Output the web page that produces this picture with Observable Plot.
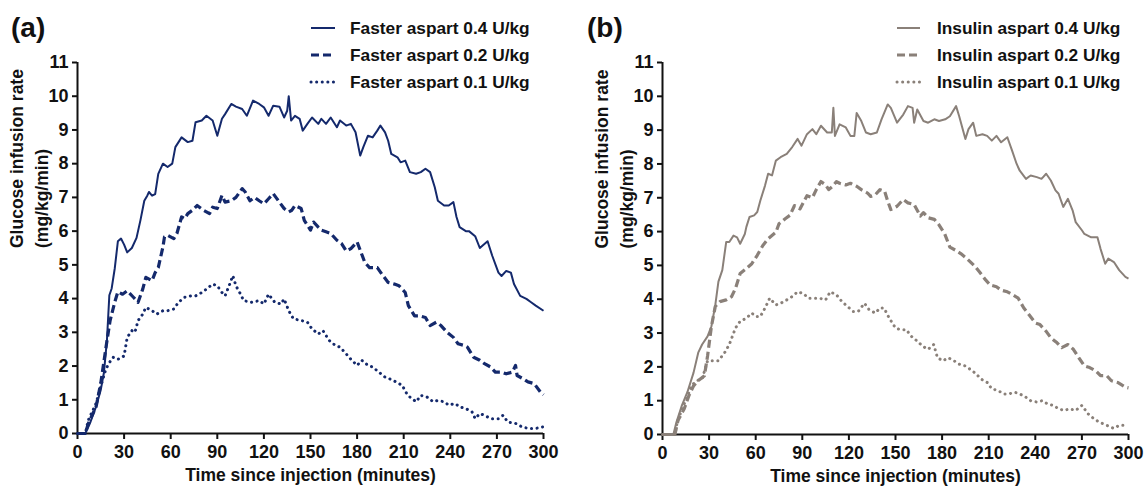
<!DOCTYPE html>
<html>
<head>
<meta charset="utf-8">
<script src="https://cdn.jsdelivr.net/npm/d3@7"></script>
<script src="https://cdn.jsdelivr.net/npm/@observablehq/plot@0.6"></script>
<style>
  html, body { margin: 0; padding: 0; background: #fff; }
  #wrap { position: relative; width: 1145px; height: 486px; overflow: hidden; background: #fff;
          font-family: "Liberation Sans", Arial, sans-serif; }
  #pa, #pb { position: absolute; top: 0; }
  #pa { left: 0; }
  #pb { left: 572px; }
  #overlay { position: absolute; left: 0; top: 0; pointer-events: none; }
</style>
</head>
<body>
<div id="wrap">
  <div id="pa"></div>
  <div id="pb"></div>
  <svg id="overlay" width="1145" height="486"></svg>
</div>
<script>
// ---------- data (time in minutes, GIR in mg/kg/min) ----------
const xTicks = [0, 30, 60, 90, 120, 150, 180, 210, 240, 270, 300];
const yTicks = [0, 1, 2, 3, 4, 5, 6, 7, 8, 9, 10, 11];

const fasterLabels = ["Faster aspart 0.4 U/kg", "Faster aspart 0.2 U/kg", "Faster aspart 0.1 U/kg"];
const insulinLabels = ["Insulin aspart 0.4 U/kg", "Insulin aspart 0.2 U/kg", "Insulin aspart 0.1 U/kg"];

const faster04 = [[0,0],[5,0],[8,0.3],[12,0.8],[15,1.3],[17,1.8],[19,2.8],[20.5,4.1],[22,4.3],[24,4.9],[26,5.7],[28,5.78],[30,5.6],[32,5.37],[35,5.5],[38,5.8],[40.5,6.32],[43,6.9],[45,7.06],[46,7.16],[48,7.05],[50,7.1],[52,7.7],[55,8.0],[58,7.9],[61,8.0],[63,8.49],[67,8.78],[71,8.64],[74,8.68],[76,9.23],[80,9.28],[83,9.42],[87,9.28],[90,8.83],[93,9.33],[95,9.47],[99,9.77],[102,9.69],[106,9.62],[109,9.42],[113,9.87],[117,9.77],[120,9.67],[123,9.42],[126,9.72],[130,9.69],[133,9.37],[135,9.57],[136,10.0],[137.5,9.28],[140,9.42],[143,9.33],[145,8.98],[148,9.18],[151,9.37],[155,9.18],[157,9.33],[160,9.18],[163,9.37],[167,9.08],[169,9.28],[173,9.13],[176,9.18],[179,8.93],[182,8.24],[184,8.49],[187,8.83],[190,8.78],[193,8.98],[195,9.13],[198,8.93],[200,8.68],[202,8.29],[206,8.19],[208,8.04],[211,8.09],[214,7.75],[218,7.7],[221,7.75],[224,7.85],[227,7.75],[230,7.3],[232,6.9],[236,6.76],[239,6.76],[242,6.86],[244,6.42],[246,6.12],[250,6.0],[252,6.0],[256,5.85],[259,5.5],[264,5.7],[267,5.27],[271,4.77],[273,4.67],[276,4.82],[279,4.77],[281,4.43],[285,4.08],[289,3.99],[292,3.89],[295,3.79],[300,3.64]];

const faster02 = [[0,0],[5,0],[7,0.3],[12,0.8],[15,1.5],[19,2.76],[21,3.35],[24,3.9],[26,4.2],[29,4.13],[32,4.23],[36,4.04],[39,3.89],[42,4.28],[44,4.63],[48,4.53],[50,4.77],[52,4.92],[55,5.53],[56,5.83],[58,5.88],[62,5.78],[64,5.93],[67,6.42],[69,6.37],[71,6.52],[74,6.62],[77,6.76],[81,6.62],[85,6.52],[87,6.71],[90,6.67],[93,7.06],[95,6.86],[99,6.9],[102,7.0],[106,7.26],[108,7.16],[111,6.9],[114,7.0],[117,6.9],[120,6.81],[123,6.96],[126,7.11],[130,6.86],[133,6.67],[136,6.57],[138,6.62],[140,6.76],[144,6.67],[146,6.32],[150,6.03],[152,6.27],[155,6.12],[157,6.03],[160,5.98],[163,5.93],[167,5.73],[170,5.63],[173,5.41],[176,5.48],[180,5.68],[185,5.07],[188,4.92],[193,4.92],[196,4.72],[200,4.48],[204,4.43],[207,4.38],[211,4.18],[213,3.79],[217,3.49],[220,3.49],[224,3.44],[227,3.2],[231,3.3],[234,3.2],[238,3.0],[242,2.85],[245,2.66],[249,2.61],[251,2.56],[255,2.26],[259,2.17],[262,2.07],[266,1.97],[269,1.82],[273,1.82],[276,1.77],[280,1.82],[282,2.02],[283,1.72],[287,1.62],[290,1.53],[294,1.48],[298,1.23],[300,1.15]];

const faster01 = [[0,0],[5,0],[7,0.4],[12,0.9],[15,1.4],[18,1.87],[20,2.07],[23,2.26],[26,2.2],[30,2.3],[32,2.85],[35,3.05],[37,3.0],[39,3.35],[42,3.54],[44,3.74],[48,3.64],[51,3.54],[55,3.64],[58,3.64],[62,3.69],[65,3.89],[69,4.04],[73,4.08],[76,4.08],[80,4.18],[83,4.28],[87,4.43],[90,4.38],[93,4.18],[95,4.08],[98,4.43],[100,4.68],[102,4.38],[105,4.13],[107,3.94],[112,3.89],[117,3.94],[120,3.84],[123,4.13],[127,3.89],[131,3.84],[133,3.99],[136,3.64],[139,3.4],[144,3.35],[148,3.3],[151,3.1],[155,2.95],[158,3.05],[162,2.76],[166,2.61],[169,2.56],[173,2.36],[176,2.2],[180,2.02],[183,2.17],[187,2.02],[190,1.97],[194,1.82],[198,1.67],[201,1.62],[205,1.53],[209,1.43],[212,1.18],[214,1.08],[218,0.94],[221,1.13],[225,1.08],[229,0.94],[232,0.98],[236,0.94],[239,0.84],[243,0.89],[246,0.79],[250,0.74],[254,0.64],[256,0.44],[259,0.59],[262,0.54],[266,0.44],[271,0.44],[274,0.54],[277,0.34],[282,0.3],[286,0.2],[290,0.15],[295,0.15],[300,0.2]];

const insulin04 = [[0,0],[7,0],[9,0.37],[12.5,0.86],[16,1.25],[20,1.83],[23,2.42],[25.5,2.66],[29,2.9],[31.5,3.2],[34,3.83],[36,4.52],[38.5,4.86],[41,5.69],[43,5.69],[45.7,5.88],[48,5.83],[50,5.64],[53,5.93],[54,6.14],[56,6.43],[59,6.48],[61,6.58],[63,6.92],[66,7.36],[68,7.71],[70.5,7.66],[73,8.1],[76,8.2],[80,8.3],[83.5,8.5],[87,8.74],[89.5,8.54],[93,8.88],[96.5,9.03],[99,8.88],[102,9.13],[106,8.93],[109,8.93],[110,9.66],[111,8.83],[114,9.17],[118,9.08],[121,8.83],[123.5,8.83],[125,9.51],[128,9.27],[131,8.93],[134,8.88],[138,8.93],[141,9.32],[145,9.76],[147,9.66],[151,9.22],[155,9.46],[158,9.71],[161,9.66],[162,9.22],[164,9.61],[168,9.27],[171,9.22],[175,9.32],[178,9.27],[182,9.32],[185,9.41],[189,9.71],[191,9.41],[195,8.74],[197,9.03],[200,9.22],[202,8.83],[206,8.88],[209,8.83],[212,8.69],[215,8.83],[218,8.64],[222,8.79],[225,8.4],[228,8.0],[230,7.8],[234,7.56],[237,7.66],[241,7.61],[244,7.56],[247,7.71],[250,7.51],[253,7.22],[255,7.12],[258,6.73],[261,6.97],[264,6.63],[266,6.28],[270,6.04],[271.6,5.93],[276,5.83],[280,5.83],[282,5.49],[285,5.05],[287,5.2],[290.6,5.1],[294,4.86],[298,4.66],[300,4.61]];

const insulin02 = [[0,0],[8,0],[10,0.42],[14,0.76],[17,1.15],[20,1.44],[23,1.59],[27,1.74],[29,2.32],[31.5,3.2],[34,3.79],[37,3.93],[41,3.98],[44.5,4.08],[47,4.32],[50,4.76],[54,4.91],[57.5,5.05],[61,5.3],[64.6,5.59],[68,5.79],[73,5.98],[75,6.23],[79,6.38],[82,6.48],[85,6.77],[88.5,6.67],[93,7.06],[96.5,7.0],[99,7.24],[102,7.48],[105,7.38],[107,7.24],[109.5,7.34],[112,7.48],[114,7.43],[118,7.38],[121,7.43],[125,7.34],[128,7.24],[132,7.14],[134,7.04],[137,7.09],[140,7.24],[143,7.19],[145,6.9],[147,6.65],[151,6.75],[155,6.95],[158,6.85],[162,6.8],[166,6.46],[168,6.56],[171,6.41],[175,6.36],[178,6.2],[181.7,5.93],[185,5.54],[189,5.44],[192,5.35],[196,5.2],[200.6,5.0],[204,4.81],[208,4.57],[211,4.42],[215,4.37],[218,4.27],[222,4.22],[225.5,4.13],[229,4.03],[232.6,3.74],[236,3.54],[240,3.3],[243,3.25],[247,3.05],[250,2.86],[254,2.71],[257,2.57],[261,2.66],[264.5,2.52],[268,2.27],[271.6,2.03],[275,1.98],[279,1.88],[282,1.74],[286,1.74],[289,1.59],[293,1.54],[298,1.4],[300,1.38]];

const insulin01 = [[0,0],[8,0],[9,0.27],[12.5,0.76],[16,1.1],[18.5,1.44],[22,1.59],[25.5,1.64],[29,2.18],[32.6,2.18],[36,2.18],[40,2.42],[43,2.66],[47,3.15],[50,3.35],[54,3.44],[57.5,3.59],[60,3.49],[63,3.49],[66,3.74],[69,4.03],[73,3.83],[76,3.88],[80,3.98],[83.5,4.08],[87,4.22],[90.6,4.17],[94,4.03],[98,4.03],[101,4.03],[105,3.98],[108,4.22],[112,4.13],[115.5,3.93],[119,3.79],[122.6,3.64],[126,3.64],[130,3.88],[133,3.69],[137,3.59],[140,3.74],[142.6,3.74],[146,3.44],[150,3.15],[153,3.1],[157,3.1],[160,2.91],[164,2.76],[167.5,2.61],[171,2.52],[174.6,2.66],[177,2.27],[180.6,2.18],[184,2.27],[187.6,2.18],[191,2.08],[194.7,2.03],[198,1.93],[202,1.79],[205,1.64],[209,1.54],[212,1.35],[216,1.3],[219.6,1.2],[223,1.2],[226.7,1.25],[230,1.2],[234,1.1],[237,1.0],[241,0.96],[244.5,1.0],[248,0.9],[251.6,0.86],[255,0.76],[258.6,0.71],[262,0.76],[266,0.71],[270,0.86],[274,0.61],[277.6,0.47],[281,0.37],[286,0.27],[290.6,0.18],[294,0.27],[299,0.27]];

// ---------- styles ----------
const NAVY = "#14296c";
const GRAY = "#8a8079";
const INK = "#111";
const FONT = "'Liberation Sans', Arial, sans-serif";
const dashStyles = [
  {strokeWidth: 2, dash: null, cap: "butt"},
  {strokeWidth: 3.2, dash: "8 4", cap: "butt"},
  {strokeWidth: 3, dash: "0.1 5.5", cap: "round"}
];

function panel(series, color, opts) {
  const lines = series.map((s, i) => Plot.line(s, {
    x: d => d[0], y: d => d[1],
    stroke: color,
    strokeWidth: dashStyles[i].strokeWidth,
    strokeDasharray: dashStyles[i].dash,
    strokeLinecap: dashStyles[i].cap,
    strokeLinejoin: "round",
    curve: "linear"
  }));
  return Plot.plot({
    width: opts.width, height: 486,
    marginLeft: opts.ml, marginRight: opts.mr, marginTop: 62, marginBottom: opts.mb,
    style: {fontFamily: FONT, fontSize: "18px", fontWeight: "bold", color: INK, background: "transparent", overflow: "visible"},
    x: {domain: [0, 300]},
    y: {domain: [0, 11]},
    marks: [
      Plot.axisX({ticks: xTicks, tickSize: 6, tickPadding: 6, strokeWidth: 2, stroke: INK, label: null, fontSize: 18, fontWeight: "bold", fill: INK}),
      Plot.axisY({ticks: yTicks, tickSize: 5, tickPadding: 4, strokeWidth: 2, stroke: INK, label: null, fontSize: 18, fontWeight: "bold", fill: INK}),
      Plot.ruleX([0], {stroke: INK, strokeWidth: 2}),
      Plot.ruleY([0], {stroke: INK, strokeWidth: 2}),
      ...lines,
      Plot.text(["Time since injection (minutes)"], {text: d => d, frameAnchor: "bottom", lineAnchor: "bottom", dy: 47, fontSize: 17.5, fontWeight: "bold", fill: INK}),
      Plot.text(["Glucose infusion rate"], {text: d => d, frameAnchor: "left", rotate: -90, dx: -60, fontSize: 17.5, fontWeight: "bold", fill: INK}),
      Plot.text(["(mg/kg/min)"], {text: d => d, frameAnchor: "left", rotate: -90, dx: -35, fontSize: 17.5, fontWeight: "bold", fill: INK})
    ]
  });
}

document.getElementById("pa").append(panel([faster04, faster02, faster01], NAVY, {width: 572, ml: 77, mr: 29, mb: 53}));
document.getElementById("pb").append(panel([insulin04, insulin02, insulin01], GRAY, {width: 573, ml: 90, mr: 17, mb: 52}));

// ---------- overlay: panel letters and legends ----------
const ov = d3.select("#overlay");
ov.append("text").attr("x", 11).attr("y", 37).text("(a)")
  .attr("font-family", FONT).attr("font-weight", "bold").attr("font-size", 28).attr("fill", INK);
ov.append("text").attr("x", 587).attr("y", 37).text("(b)")
  .attr("font-family", FONT).attr("font-weight", "bold").attr("font-size", 28).attr("fill", INK);

function legend(labels, color, x0, x1, tx) {
  const rowsY = [28, 55, 82];
  labels.forEach((lab, i) => {
    const st = dashStyles[i];
    ov.append("line").attr("x1", x0).attr("x2", x1).attr("y1", rowsY[i]).attr("y2", rowsY[i])
      .attr("stroke", color).attr("stroke-width", st.strokeWidth)
      .attr("stroke-dasharray", st.dash).attr("stroke-linecap", st.cap);
    ov.append("text").attr("x", tx).attr("y", rowsY[i]).attr("dy", "0.36em").text(lab)
      .attr("font-family", FONT).attr("font-weight", "bold").attr("font-size", 17.3).attr("fill", INK);
  });
}
legend(fasterLabels, NAVY, 311, 335, 350);
legend(insulinLabels, GRAY, 897, 920, 937);
</script>
</body>
</html>
